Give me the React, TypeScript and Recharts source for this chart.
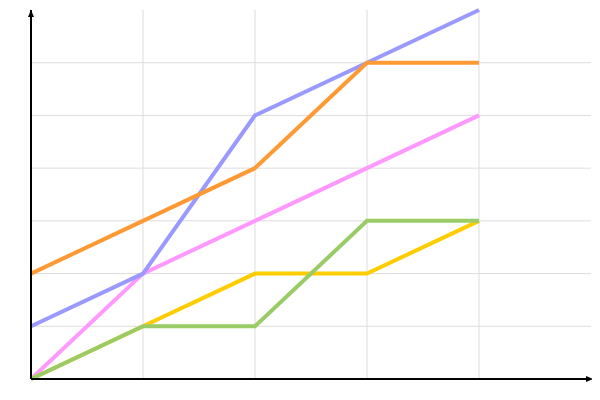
import React from "react";
import {
  LineChart,
  Line,
  XAxis,
  YAxis,
  ReferenceLine,
  ReferenceDot,
} from "recharts";

const X_VALUES = [0, 1, 2, 3, 4];
const BLUE = [1, 2, 5, 6, 7];
const ORANGE = [2, 3, 4, 6, 6];
const PINK = [0, 2, 3, 4, 5];
const YELLOW = [0, 1, 2, 2, 3];
const GREEN = [0, 1, 1, 3, 3];

const X_GRID = [1, 2, 3, 4];
const Y_GRID = [1, 2, 3, 4, 5, 6];

const DATA = X_VALUES.map((x, i) => ({
  x,
  blue: BLUE[i],
  orange: ORANGE[i],
  pink: PINK[i],
  yellow: YELLOW[i],
  green: GREEN[i],
}));

const ArrowRight = (props: any) => {
  const { cx, cy } = props;
  return (
    <polygon
      points={`${cx + 2},${cy} ${cx - 5},${cy - 3} ${cx - 5},${cy + 3}`}
      fill="#000"
    />
  );
};

const ArrowUp = (props: any) => {
  const { cx, cy } = props;
  return (
    <polygon
      points={`${cx},${cy} ${cx - 3},${cy + 7} ${cx + 3},${cy + 7}`}
      fill="#000"
    />
  );
};

export default function App() {
  return (
    <div style={{ width: 592, height: 392 }}>
      <LineChart
        width={592}
        height={392}
        data={DATA}
        margin={{ top: 2, right: 9, left: 22, bottom: 20 }}
      >
        {X_GRID.map((v) => (
          <ReferenceLine key={"x" + v} x={v} stroke="#dddddd" strokeWidth={1} />
        ))}
        {Y_GRID.map((v) => (
          <ReferenceLine key={"y" + v} y={v} stroke="#dddddd" strokeWidth={1} />
        ))}
        <XAxis
          dataKey="x"
          type="number"
          domain={[0, 5]}
          tick={false}
          tickLine={false}
          height={1}
          axisLine={{ stroke: "#000", strokeWidth: 2 }}
        />
        <YAxis
          type="number"
          domain={[0, 7]}
          tick={false}
          tickLine={false}
          width={1}
          axisLine={{ stroke: "#000", strokeWidth: 2 }}
        />
        <Line dataKey="pink" stroke="#ff99ff" strokeWidth={4} dot={false} isAnimationActive={false} />
        <Line dataKey="blue" stroke="#9999ff" strokeWidth={4} dot={false} isAnimationActive={false} />
        <Line dataKey="orange" stroke="#ff9933" strokeWidth={4} dot={false} isAnimationActive={false} />
        <Line dataKey="yellow" stroke="#ffcc00" strokeWidth={4} dot={false} isAnimationActive={false} />
        <Line dataKey="green" stroke="#99cc66" strokeWidth={4} dot={false} isAnimationActive={false} />
        <ReferenceDot x={5} y={0} shape={ArrowRight} ifOverflow="visible" />
        <ReferenceDot x={0} y={7} shape={ArrowUp} ifOverflow="visible" />
      </LineChart>
    </div>
  );
}
